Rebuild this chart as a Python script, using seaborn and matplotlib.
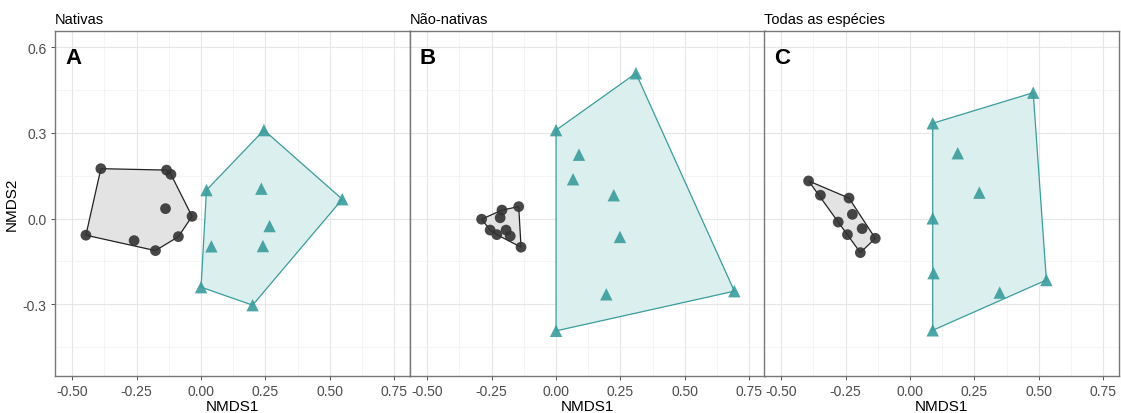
import matplotlib
matplotlib.use("Agg")
import matplotlib.pyplot as plt
import numpy as np
import pandas as pd
import seaborn as sns

# panel titles and letters
titles = ["Nativas", "Não-nativas", "Todas as espécies"]
letters = ["A", "B", "C"]

# group 1 (circles)
a_g1_x = [-0.389, -0.134, -0.117, -0.138, -0.035, -0.447, -0.260, -0.177, -0.088]
a_g1_y = [0.175, 0.170, 0.155, 0.035, 0.008, -0.058, -0.077, -0.112, -0.063]
# group 2 (triangles)
a_g2_x = [0.244, 0.021, 0.234, 0.548, 0.266, 0.040, 0.240, 0.000, 0.200]
a_g2_y = [0.310, 0.100, 0.105, 0.068, -0.026, -0.097, -0.096, -0.240, -0.303]

b_g1_x = [-0.289, -0.210, -0.145, -0.217, -0.256, -0.230, -0.194, -0.178, -0.136]
b_g1_y = [-0.002, 0.030, 0.042, 0.003, -0.040, -0.056, -0.040, -0.061, -0.100]
b_g2_x = [0.310, 0.000, 0.089, 0.066, 0.224, 0.248, 0.195, 0.692, 0.000]
b_g2_y = [0.509, 0.310, 0.224, 0.138, 0.082, -0.064, -0.265, -0.254, -0.393]

c_g1_x = [-0.394, -0.348, -0.237, -0.224, -0.279, -0.186, -0.243, -0.135, -0.193]
c_g1_y = [0.132, 0.082, 0.072, 0.015, -0.012, -0.035, -0.056, -0.069, -0.119]
c_g2_x = [0.478, 0.088, 0.185, 0.269, 0.088, 0.091, 0.348, 0.529, 0.088]
c_g2_y = [0.441, 0.334, 0.229, 0.091, 0.001, -0.191, -0.259, -0.215, -0.391]

x_ticks = [-0.50, -0.25, 0.00, 0.25, 0.50, 0.75]
y_ticks = [-0.3, 0.0, 0.3, 0.6]

panels = [
    (a_g1_x, a_g1_y, a_g2_x, a_g2_y),
    (b_g1_x, b_g1_y, b_g2_x, b_g2_y),
    (c_g1_x, c_g1_y, c_g2_x, c_g2_y),
]

grey_col = "#333333"
teal_col = "#3a9c9c"


def convex_hull(px, py):
    """ monotone chain hull, returns vertex array """
    pts = sorted(set(zip(px, py)))

    def cross(o, a, b):
        return (a[0] - o[0]) * (b[1] - o[1]) - (a[1] - o[1]) * (b[0] - o[0])

    lower, upper = [], []
    for p in pts:
        while len(lower) >= 2 and cross(lower[-2], lower[-1], p) <= 0:
            lower.pop()
        lower.append(p)
    for p in reversed(pts):
        while len(upper) >= 2 and cross(upper[-2], upper[-1], p) <= 0:
            upper.pop()
        upper.append(p)
    return np.array(lower[:-1] + upper[:-1])


sns.set_theme(style="white")
plt.rcParams['font.family'] = ['Liberation Sans', 'DejaVu Sans']

fig = plt.figure(figsize=(11.21, 4.14), dpi=100)
lefts = [55, 410, 764]
width = 355
bottom = 1 - 376.7 / 414
height = (376.7 - 32.3) / 414

for i, (g1x, g1y, g2x, g2y) in enumerate(panels):
    ax = fig.add_axes([lefts[i] / 1121, bottom, width / 1121, height])
    df = pd.DataFrame({
        "NMDS1": list(g1x) + list(g2x),
        "NMDS2": list(g1y) + list(g2y),
        "grupo": ["g1"] * len(g1x) + ["g2"] * len(g2x),
    })

    # hulls first so points sit on top
    for grp, edge, fill in [("g1", "#222222", "#e3e3e3"), ("g2", teal_col, "#dcefef")]:
        sub = df[df["grupo"] == grp]
        hull = convex_hull(sub["NMDS1"], sub["NMDS2"])
        ax.fill(hull[:, 0], hull[:, 1], facecolor=fill, edgecolor=edge, linewidth=0.9, zorder=2)

    sns.scatterplot(data=df, x="NMDS1", y="NMDS2", hue="grupo", style="grupo",
                    markers={"g1": "o", "g2": "^"}, palette={"g1": grey_col, "g2": teal_col},
                    size="grupo", sizes={"g1": 60, "g2": 80},
                    alpha=0.9, edgecolor="none", legend=False, ax=ax, zorder=3)

    ax.set_xlim(-0.567, 0.811)
    ax.set_ylim(-0.55, 0.656)
    ax.set_xticks(x_ticks)
    ax.set_xticklabels([f"{t:.2f}" for t in x_ticks])
    ax.set_xticks([-0.375, -0.125, 0.125, 0.375, 0.625], minor=True)
    ax.set_yticks(y_ticks)
    ax.set_yticks([-0.45, -0.15, 0.15, 0.45], minor=True)
    ax.grid(True, which="major", color="#e6e6e6", linewidth=0.8, zorder=0)
    ax.grid(True, which="minor", color="#f2f2f2", linewidth=0.5, zorder=0)
    ax.set_axisbelow(True)
    ax.tick_params(axis="both", which="major", length=3, width=0.7, color="#555555",
                   labelsize=10, labelcolor="#4d4d4d", pad=3, bottom=True, left=(i == 0))
    ax.tick_params(which="minor", length=0)
    if i > 0:
        ax.set_yticklabels([])
        ax.set_ylabel("")
    else:
        ax.set_yticklabels([f"{t:.1f}" for t in y_ticks])
        ax.set_ylabel("NMDS2", fontsize=11, color="black", labelpad=3)
    ax.set_xlabel("NMDS1", fontsize=11, color="black", labelpad=1)
    for sp in ax.spines.values():
        sp.set_color("#777777")
        sp.set_linewidth(1.0)
    ax.set_title(titles[i], loc="left", fontsize=10.5, pad=6, color="black")
    ax.text(0.028, 0.955, letters[i], transform=ax.transAxes, fontsize=16,
            fontweight="bold", va="top", ha="left", color="black")

fig.savefig("out.png", dpi=100)
